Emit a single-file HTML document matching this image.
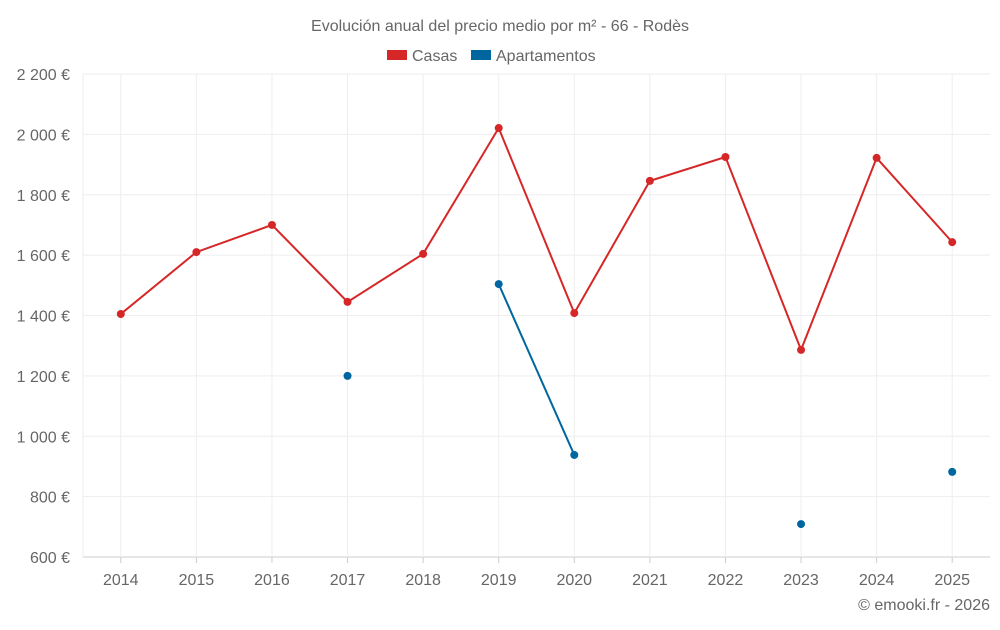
<!DOCTYPE html>
<html><head><meta charset="utf-8"><style>
body{margin:0;background:#fff;font-family:"Liberation Sans",sans-serif;}
svg text{font-family:"Liberation Sans",sans-serif;fill:#666;}
</style></head><body>
<svg id="c" width="1000" height="625">
<text x="500" y="31" text-anchor="middle" font-size="16">Evolución anual del precio medio por m² - 66 - Rodès</text>
<g>
<g><rect x="387" y="50" width="20" height="10" fill="#d62728"/><text x="412" y="61" font-size="16">Casas</text></g>
<g><rect x="471" y="50" width="20" height="10" fill="#0066a0"/><text x="496" y="61" font-size="16">Apartamentos</text></g>
</g>
<g id="grid"></g><g id="axes"></g><g id="series"></g>
<text x="990" y="610" text-anchor="end" font-size="16">© emooki.fr - 2026</text>
</svg>
<script>
const years=[2014,2015,2016,2017,2018,2019,2020,2021,2022,2023,2024,2025];
const casas=[1405,1610,1700,1445,1604,2021,1408,1846,1925,1286,1922,1643];
const apartamentos=[null,null,null,1200,null,1504,938,null,null,709,null,882];
const yTicks=[600,800,1000,1200,1400,1600,1800,2000,2200];
const tickLabels=["600 €","800 €","1 000 €","1 200 €","1 400 €","1 600 €","1 800 €","2 000 €","2 200 €"];
const L=83,R=990,T=74,B=557,ymin=600,ymax=2200;
const step=(R-L)/years.length;
const x=i=>L+step*(i+0.5);
const y=v=>B-(v-ymin)/(ymax-ymin)*(B-T);
const NS="http://www.w3.org/2000/svg";
function mk(tag,attrs,parent){const e=document.createElementNS(NS,tag);for(const k in attrs)e.setAttribute(k,attrs[k]);parent.appendChild(e);return e;}
const grid=document.getElementById('grid'),axes=document.getElementById('axes'),ser=document.getElementById('series');
yTicks.forEach((t,i)=>{
 const l=mk('line',{x1:L,x2:R,y1:y(t),y2:y(t),stroke:t===ymin?'#ccc':'#eee'},grid);
 
 
 const tx=mk('text',{x:L-13,y:y(t)+6,'text-anchor':'end','font-size':16},axes);
 tx.textContent=tickLabels[i];
 
 
});
years.forEach((yr,i)=>{
 const g=mk('line',{x1:x(i),x2:x(i),y1:T,y2:B,stroke:'#eee'},grid);
 
 
 const tk=mk('line',{x1:x(i),x2:x(i),y1:B,y2:B+6,stroke:'#ccc'},axes);
 
 
 const tx=mk('text',{x:x(i),y:B+28,'text-anchor':'middle','font-size':16},axes);
 tx.textContent=yr;
 
 
});
const gl=mk('line',{x1:L,x2:L,y1:T,y2:B,stroke:'#eee'},grid);


function draw(vals,color,name){
 let seg=[];const segs=[];
 vals.forEach((v,i)=>{if(v==null){if(seg.length)segs.push(seg);seg=[];}else seg.push([x(i),y(v)]);});
 if(seg.length)segs.push(seg);
 segs.forEach(s=>{if(s.length>1){const p=mk('polyline',{points:s.map(q=>q.join(',')).join(' '),fill:'none',stroke:color,'stroke-width':2},ser);
  
  }});
 vals.forEach((v,i)=>{if(v==null)return;const c=mk('circle',{cx:x(i),cy:y(v),r:4,fill:color},ser);
  
  });
}
draw(casas,'#d62728','casas');
draw(apartamentos,'#0066a0','apartamentos');
</script>
</body></html>
